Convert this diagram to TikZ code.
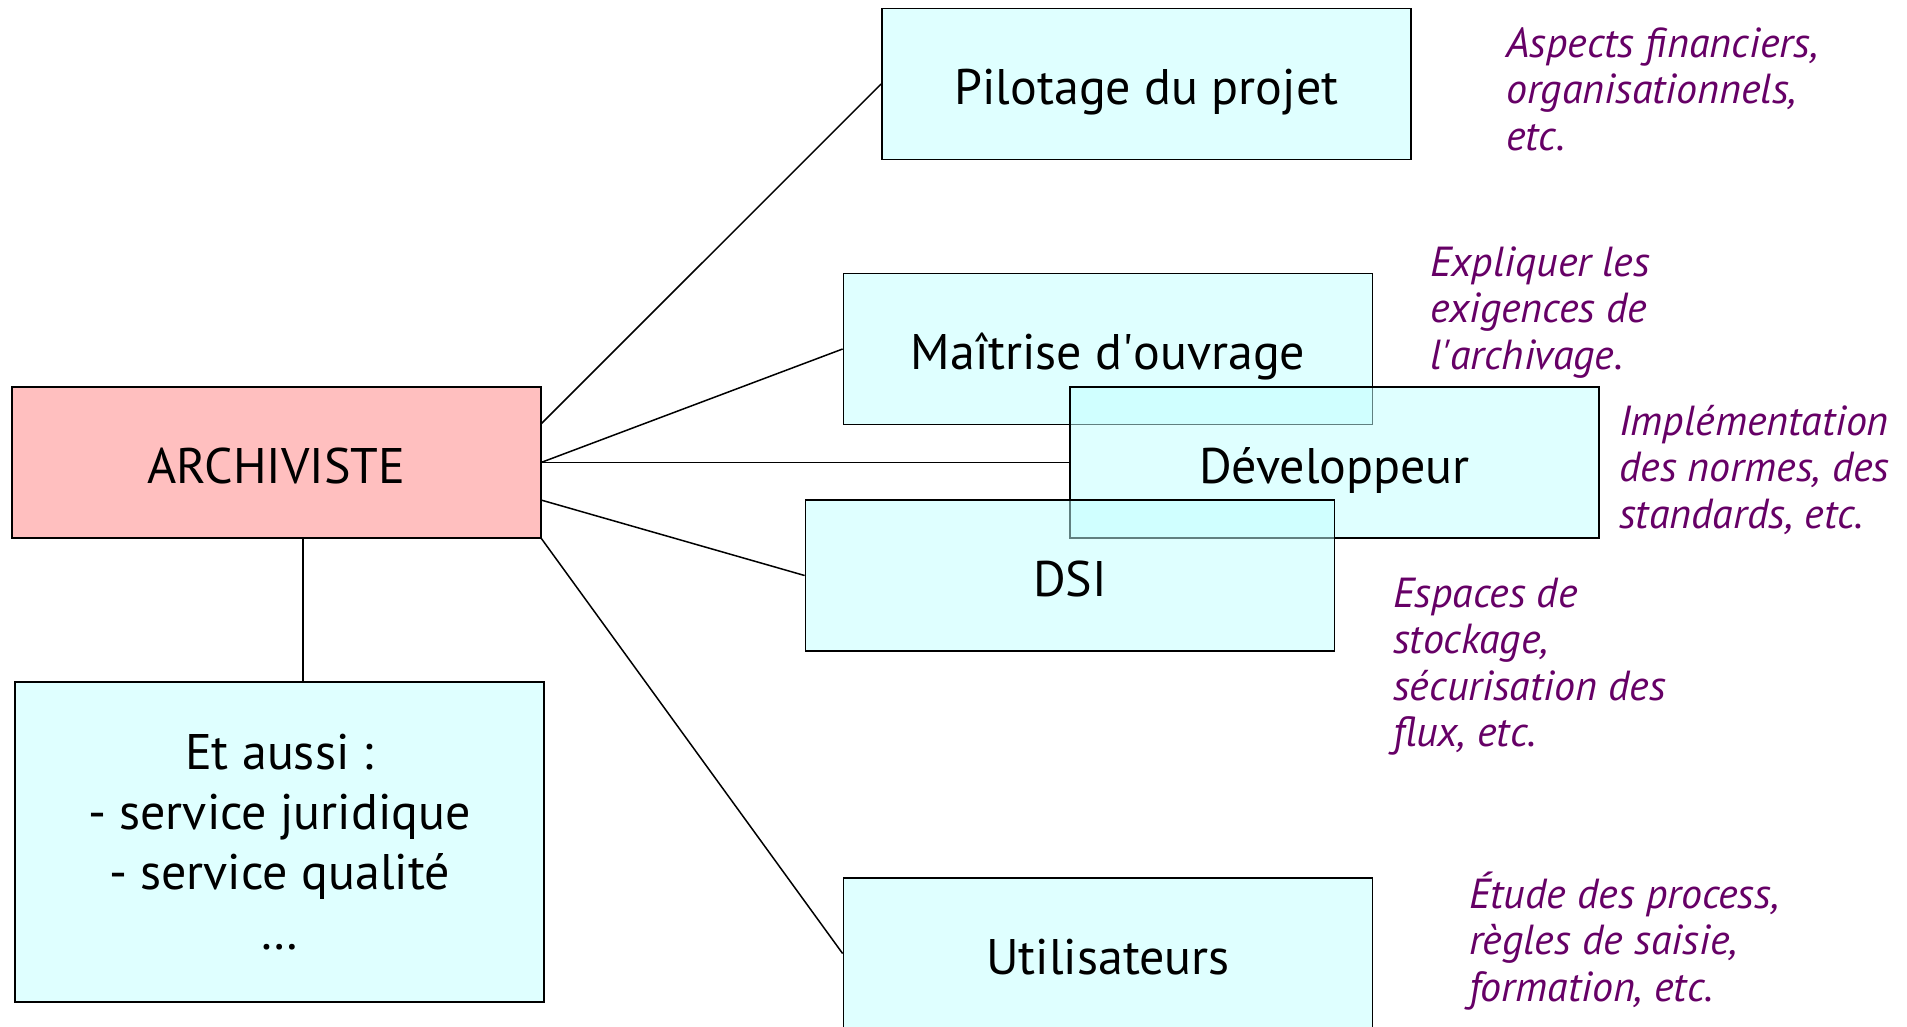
\documentclass[tikz,border=0pt]{standalone}
\usepackage{fontspec}
\setmainfont{PT Sans}
\usetikzlibrary{calc}
\definecolor{boxcyan}{RGB}{192,255,255}
\definecolor{boxpink}{RGB}{255,191,191}
\definecolor{notepurple}{RGB}{102,0,102}
\begin{document}
\begin{tikzpicture}[x=1pt,y=-1pt,
  box/.style={draw=black, line width=1.8pt, minimum width=529pt, minimum height=151pt,
    inner sep=0pt, font=\fontsize{50}{60}\selectfont, align=center},
  onebox/.style={text height=52pt, text depth=11pt},
  tbox/.style={box, fill=boxcyan, fill opacity=0.5, text opacity=1},
  pbox/.style={box, fill=boxpink},
  note/.style={anchor=base west, align=left, text=notepurple, inner sep=0pt,
    font=\fontsize{42}{46.5}\selectfont\itshape},
  link/.style={line width=1.5pt}]
\useasboundingbox (0,0) rectangle (1907,1026);
\coordinate (a1) at (541,424);
\coordinate (a2) at (541,462.5);
\coordinate (a3) at (541,500);
\coordinate (a4) at (541,538);
\coordinate (a5) at (303,538);
\node[pbox, onebox] (arch) at (276.5,462.5) {ARCHIVISTE};
\node[tbox, onebox] (pil) at (1146.5,84) {Pilotage du projet};
\node[tbox, onebox] (mai) at (1108,349) {Maîtrise d\textquotesingle ouvrage};
\node[tbox, onebox] (dev) at (1334.5,462.5) {Développeur};
\node[tbox, onebox] (dsi) at (1070,575.5) {DSI};
\node[tbox, onebox] (util) at (1108,953.5) {Utilisateurs};
\node[tbox, minimum height=320pt] (aussi) at (279.5,842) {Et aussi :\\- service juridique\\- service qualité\\\dots};
\draw[link] (a1) -- (pil.west);
\draw[link] (a2) -- (mai.west);
\draw[link] (a2) -- (dev.west);
\draw[link] (a3) -- (dsi.west);
\draw[link] (a4) -- (util.west);
\draw[link] (a5) -- (a5 |- aussi.north);
% notes (anchored at the baseline of their last line)
\node[note] (n1) at (1506,150) {Aspects financiers,\\organisationnels,\\etc.};
\node[note] (n2) at (1430,369) {Expliquer les\\exigences de\\l\textquotesingle archivage.};
\node[note] (n3) at (1619,528) {Implémentation\\des normes, des\\standards, etc.};
\node[note] (n4) at (1393,746.5) {Espaces de\\stockage,\\sécurisation des\\flux, etc.};
\node[note] (n5) at (1469,1001) {Étude des process,\\règles de saisie,\\formation, etc.};
\end{tikzpicture}
\end{document}
